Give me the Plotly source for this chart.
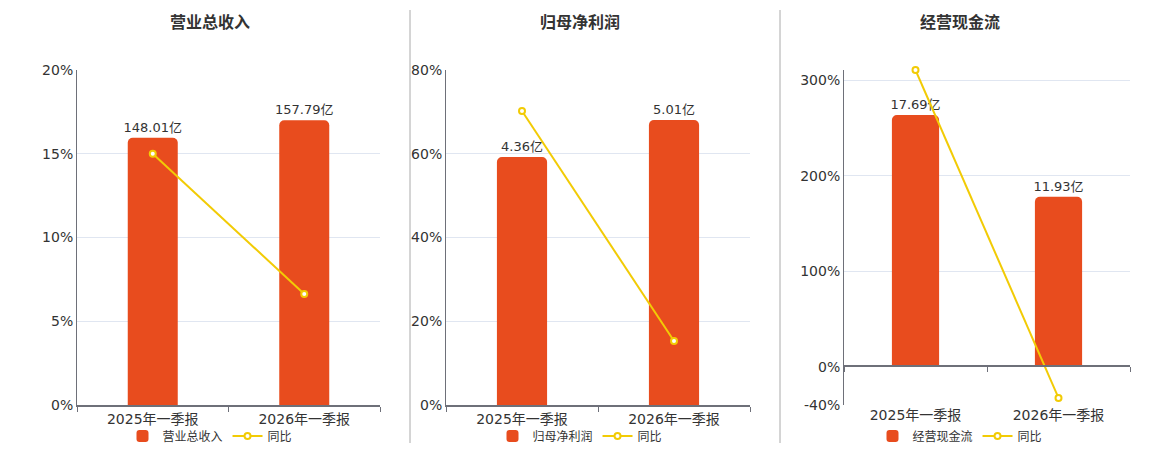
import plotly.graph_objects as go

# reporting periods
periods = ["2025年一季报", "2026年一季报"]

# panel titles / series names
titles = ["营业总收入", "归母净利润", "经营现金流"]

# amounts in 亿 (bars)
revenue = [148.01, 157.79]
net_profit = [4.36, 5.01]
cash_flow = [17.69, 11.93]

# year-on-year growth in % (line)
revenue_yoy = [15.0, 6.63]
net_profit_yoy = [70.2, 15.3]
cash_flow_yoy = [310.5, -32.6]

# percent axis ticks per panel
pct_ticks = [[0, 5, 10, 15, 20], [0, 20, 40, 60, 80], [-40, 0, 100, 200, 300]]

BAR = "#E84C1E"
LINE = "#F2CB05"
GRID = "#E0E6F1"
AXIS = "#6E7079"
TXT = "#333333"
FONT = "DejaVu Sans, Noto Sans CJK SC, sans-serif"

# page body has an 8px margin, so the figure is drawn 8px in from the corner
OX, OY = 8, 8
W, H = 1160 - OX, 450 - OY


def px(x):
    return (x - OX) / W


def py(y):
    return 1 - (y - OY) / H


# pixel layout of the three plot areas (left, right), shared top/bottom
panels = [(77, 380), (446, 750), (844, 1130)]
top, bottom = 70, 405
title_x = [210, 580, 960]

bars = [revenue, net_profit, cash_flow]
lines = [revenue_yoy, net_profit_yoy, cash_flow_yoy]
pct_range = [[0, 20], [0, 80], [-40, 310.5]]
bar_range = [[0, 185.6], [0, 5.89], [-2.75, 20.86]]

fig = go.Figure()
layout = {}
shapes = []
annotations = []

for i in range(3):
    n = i + 1
    xa = "x" if n == 1 else f"x{n}"
    ya_bar = "y" if n == 1 else f"y{2 * n - 1}"
    ya_pct = f"y{2 * n}"
    leg = "legend" if n == 1 else f"legend{n}"
    l, r = panels[i]
    ydom = [py(bottom), py(top)]

    fig.add_trace(go.Bar(
        x=periods, y=bars[i], name=titles[i], xaxis=xa, yaxis=ya_bar,
        width=0.33, marker=dict(color=BAR, cornerradius=5, line=dict(width=0)),
        text=[f"{v:.2f}亿" for v in bars[i]], textposition="outside",
        textfont=dict(size=13, color=TXT), cliponaxis=False, legend=leg,
        constraintext="none", hoverinfo="skip",
    ))
    fig.add_trace(go.Scatter(
        x=periods, y=lines[i], name="同比", xaxis=xa, yaxis=ya_pct,
        mode="lines+markers", line=dict(color=LINE, width=2),
        marker=dict(size=6, color="white", line=dict(color=LINE, width=2)),
        cliponaxis=False, legend=leg,
    ))

    # gridlines sit on the (base) bar axis so they stay behind the bars
    p0, p1 = pct_range[i]
    b0, b1 = bar_range[i]
    grid_vals = [b0 + (p - p0) * (b1 - b0) / (p1 - p0) for p in pct_ticks[i]]
    grid_vals.append(b1)

    xkey = "xaxis" if n == 1 else f"xaxis{n}"
    layout[xkey] = dict(
        domain=[px(l), px(r)], anchor=ya_bar, type="category", range=[-0.5, 1.5],
        tickfont=dict(size=14, color=TXT), ticks="outside" if n < 3 else "",
        tickson="boundaries", ticklen=5, tickcolor=AXIS, automargin=False,
        showline=n < 3, linecolor=AXIS, linewidth=2, showgrid=False,
    )
    ybkey = "yaxis" if n == 1 else f"yaxis{2 * n - 1}"
    layout[ybkey] = dict(
        domain=ydom, anchor=xa, range=bar_range[i], tickvals=grid_vals,
        showticklabels=False, ticks="", showline=False, gridcolor=GRID,
        zeroline=False, automargin=False,
    )
    layout[f"yaxis{2 * n}"] = dict(
        domain=ydom, anchor=xa, overlaying=ya_bar, side="left",
        range=pct_range[i], tickvals=pct_ticks[i],
        ticktext=[f"{t}%" for t in pct_ticks[i]],
        tickfont=dict(size=14, color=TXT), showline=True, linecolor=AXIS,
        linewidth=1, showgrid=False, zeroline=False, ticks="", automargin=False,
    )
    layout[leg] = dict(
        orientation="h", x=px(title_x[i]), xanchor="center", y=py(436),
        yanchor="middle", font=dict(size=12, color=TXT), bgcolor="rgba(0,0,0,0)",
        itemwidth=30, tracegroupgap=0,
    )
    annotations.append(dict(
        text=f"<b>{titles[i]}</b>", x=px(title_x[i]), y=py(22),
        xref="paper", yref="paper", showarrow=False,
        xanchor="center", yanchor="middle",
        font=dict(size=16, color=TXT),
    ))

# cash flow panel: axis line and ticks at zero
layout["xaxis4"] = dict(
    overlaying="x3", anchor="free", position=py(366), type="category",
    range=[-0.5, 1.5], showticklabels=False, ticks="outside", tickson="boundaries",
    ticklen=5, tickcolor=AXIS, showline=True, linecolor=AXIS, linewidth=2,
    showgrid=False, categoryarray=periods, categoryorder="array",
    automargin=False,
)
fig.add_trace(go.Scatter(x=periods, y=[0, 0], xaxis="x4", yaxis="y5",
                         mode="none", showlegend=False, hoverinfo="skip"))

# separators between panels
for sx in (410, 780):
    shapes.append(dict(type="line", xref="paper", yref="paper",
                       x0=px(sx), x1=px(sx), y0=py(443), y1=py(10),
                       line=dict(color="#AAAAAA", width=1)))

fig.update_layout(
    width=W, height=H, margin=dict(l=0, r=0, t=0, b=0, autoexpand=False),
    paper_bgcolor="white", plot_bgcolor="white",
    font=dict(family=FONT, color=TXT), showlegend=True,
    shapes=shapes, annotations=annotations, **layout,
)

fig.write_html("out.html")
